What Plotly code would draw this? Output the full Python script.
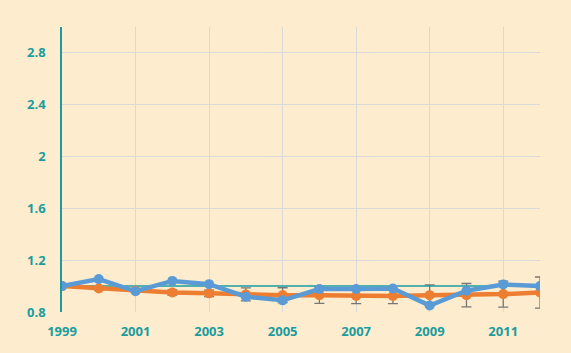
import plotly.graph_objects as go

years = list(range(1999, 2013))
blue_vals = [1.0, 1.054, 0.96, 1.04, 1.015, 0.918, 0.89, 0.977, 0.977, 0.982, 0.85, 0.964, 1.013, 1.0]
orange_vals = [1.0, 0.982, 0.965, 0.95, 0.944, 0.936, 0.93, 0.93, 0.923, 0.923, 0.93, 0.93, 0.938, 0.95]
orange_err = [0.0, 0.01, 0.01, 0.02, 0.025, 0.05, 0.057, 0.063, 0.058, 0.058, 0.08, 0.09, 0.1, 0.12]
ref_vals = [1.0] * len(years)
x_ticks = [1999, 2001, 2003, 2005, 2007, 2009, 2011]
y_ticks = [0.8, 1.2, 1.6, 2.0, 2.4, 2.8]
y_tick_text = ["0.8", "1.2", "1.6", "2", "2.4", "2.8"]

teal = "#1a9c9f"
bg = "#fdedce"

fig = go.Figure()
fig.add_trace(go.Scatter(
    x=years, y=orange_vals, mode="markers",
    marker=dict(size=1, opacity=0),
    error_y=dict(type="data", array=orange_err, visible=True,
                 color="#777777", thickness=1.3, width=5),
    showlegend=False, hoverinfo="skip"))
fig.add_trace(go.Scatter(
    x=years, y=ref_vals, mode="lines",
    line=dict(color=teal, width=1.5), showlegend=False))
fig.add_trace(go.Scatter(
    x=years, y=orange_vals, mode="lines+markers",
    line=dict(color="#ed7d31", width=4.5),
    marker=dict(size=10, color="#ed7d31"), showlegend=False))
fig.add_trace(go.Scatter(
    x=years, y=blue_vals, mode="lines+markers",
    line=dict(color="#5b9bd5", width=4.5),
    marker=dict(size=10, color="#5b9bd5"), showlegend=False))

fig.update_layout(
    width=571, height=353,
    paper_bgcolor=bg, plot_bgcolor=bg,
    margin=dict(l=62, r=31, t=27, b=41),
    font=dict(family="Open Sans", color=teal),
    xaxis=dict(range=[1999, 2012], tickvals=x_ticks, showgrid=True,
               gridcolor="#d9d9d9", gridwidth=1, zeroline=False, showline=False,
               tickfont=dict(size=13, color=teal, family="Open Sans", weight="bold"),
               ticks="", ticklen=0, ticklabelstandoff=10),
    yaxis=dict(range=[0.8, 3.0], tickvals=y_ticks, ticktext=y_tick_text,
               showgrid=True, gridcolor="#d9d9d9", gridwidth=1, zeroline=False,
               showline=True, linecolor=teal, linewidth=1.5,
               tickfont=dict(size=13, color=teal, family="Open Sans", weight="bold"),
               ticks="", ticklen=0, ticklabelstandoff=12),
)
fig.write_html("out.html")
